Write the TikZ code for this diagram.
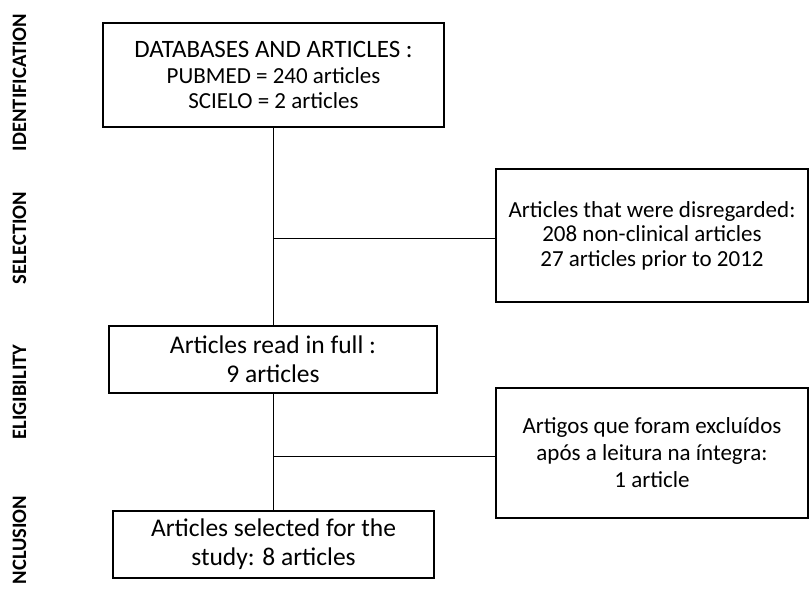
\documentclass[tikz,border=0pt]{standalone}
\usepackage{fontspec}
\setmainfont{Carlito}
\begin{document}
\begin{tikzpicture}[x=1pt,y=-1pt,
  box/.style={draw=black,line width=1.1pt,inner sep=0pt,align=center},
  conn/.style={draw=black,line width=0.9pt},
  phase/.style={rotate=90,anchor=base,inner sep=0pt,font=\bfseries\fontsize{20.5}{24}\selectfont}]
\useasboundingbox (0,0) rectangle (810,590);
\fill[white] (0,0) rectangle (810,590);
% phase labels
\node[phase] (lid) at (26,82.5) {IDENTIFICATION};
\node[phase] (lsel) at (26,238) {SELECTION};
\node[phase] (lel) at (26,392) {ELIGIBILITY};
\node[phase] (linc) at (26,540) {NCLUSION};
% boxes
\node[box,minimum width=341pt,minimum height=104pt,
  font=\fontsize{23}{25.5}\selectfont] (top) at (273.5,75)
  {{\fontsize{25}{25.5}\selectfont DATABASES AND ARTICLES :}\\
   PUBMED = 240 articles\\
   SCIELO = 2 articles};
\node[box,minimum width=312pt,minimum height=133pt,
  font=\fontsize{23}{24.5}\selectfont] (r1) at (652,235.5)
  {Articles that were disregarded:\\208 non-clinical articles\\27 articles prior to 2012};
\node[box,minimum width=328pt,minimum height=67pt,
  font=\fontsize{25.5}{29}\selectfont] (mid) at (273,359.5)
  {Articles read in full :\\9 articles};
\node[box,minimum width=312pt,minimum height=130pt,
  font=\fontsize{23}{27}\selectfont] (r2) at (652,453)
  {Artigos que foram excluídos\\após a leitura na íntegra:\\1 article};
\node[box,minimum width=321pt,minimum height=67pt,
  font=\fontsize{25.5}{29}\selectfont] (bot) at (273.5,544.5)
  {Articles selected for the\\study: 8 articles};
% connectors
\coordinate (j1) at (273,238);
\coordinate (j2) at (273,456);
\draw[conn] (top.south -| j1) -- (mid.north -| j1);
\draw[conn] (j1) -- (j1 -| r1.west);
\draw[conn] (mid.south -| j2) -- (bot.north -| j2);
\draw[conn] (j2) -- (j2 -| r2.west);
\end{tikzpicture}
\end{document}
